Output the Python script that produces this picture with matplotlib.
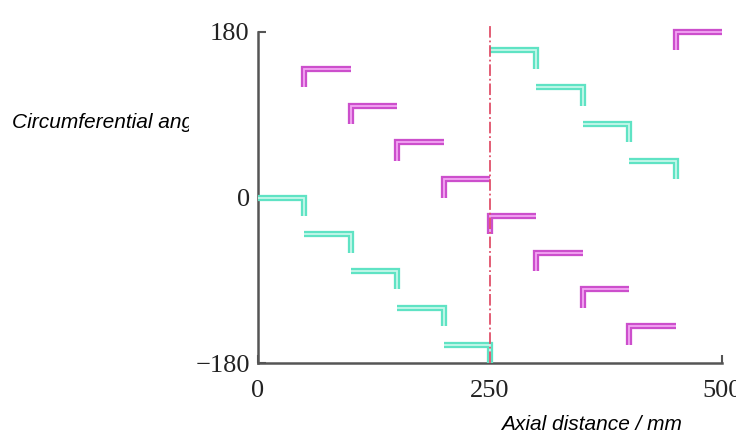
import matplotlib.pyplot as plt
from matplotlib.transforms import Bbox, TransformedBbox

# segment start positions (mm) and angles (deg)
cyan_x = [0, 50, 100, 150, 200, 250, 300, 350, 400]
cyan_y = [0, -40, -80, -120, -160, 160, 120, 80, 40]
mag_x = [50, 100, 150, 200, 250, 300, 350, 400, 450]
mag_y = [140, 100, 60, 20, -20, -60, -100, -140, 180]
seg_len = 50
drop = 20

fig = plt.figure(figsize=(7.36, 4.34), dpi=100)
ax = fig.add_axes([258 / 736, 1 - 363 / 434, 464 / 736, 331 / 434])


def double_line(xs, ys, outer, inner):
    ax.plot(xs, ys, color=outer, lw=4.5, solid_joinstyle='miter',
            solid_capstyle='butt', clip_on=False, zorder=3)
    ax.plot(xs, ys, color=inner, lw=1.3, solid_joinstyle='miter',
            solid_capstyle='butt', clip_on=False, zorder=4)


for x0, v in zip(cyan_x, cyan_y):
    double_line([x0, x0 + seg_len, x0 + seg_len], [v, v, v - drop],
                '#5fe3c4', '#c6f7ea')

for x0, v in zip(mag_x, mag_y):
    double_line([x0, x0, x0 + seg_len], [v - drop, v, v],
                '#cc4fcc', '#f3a6f3')

ax.plot([250, 250], [-180, 187], color='#e0506a', lw=1.3, ls='-.',
        clip_on=False, zorder=5)

ax.set_xlim(0, 500)
ax.set_ylim(-180, 180)
ax.set_xticks([0, 250, 500])
ax.set_yticks([-180, 0, 180])
for side in ['top', 'right']:
    ax.spines[side].set_visible(False)
for side in ['left', 'bottom']:
    ax.spines[side].set_color('#555555')
    ax.spines[side].set_linewidth(1.8)
ax.tick_params(direction='in', length=6, width=1.5, color='#555555',
               labelsize=19, labelcolor='#222222')
ax.tick_params(axis='x', pad=12)
ax.tick_params(axis='y', pad=6)
for lab in ax.get_xticklabels() + ax.get_yticklabels():
    lab.set_family('Liberation Serif')

# y label is partly hidden behind the plot image in the original
t = fig.text(12 / 736, 1 - 128 / 434, 'Circumferential angle / deg',
             fontsize=15, style='italic', family='Liberation Sans',
             va='baseline', ha='left')
t.set_clip_box(TransformedBbox(Bbox([[0, 0], [189 / 736, 1]]), fig.transFigure))
t.set_clip_on(True)

fig.text(501 / 736, 1 - 430 / 434, 'Axial distance / mm', fontsize=15,
         style='italic', family='Liberation Sans', va='baseline', ha='left')

fig.savefig('out.png', dpi=100)
